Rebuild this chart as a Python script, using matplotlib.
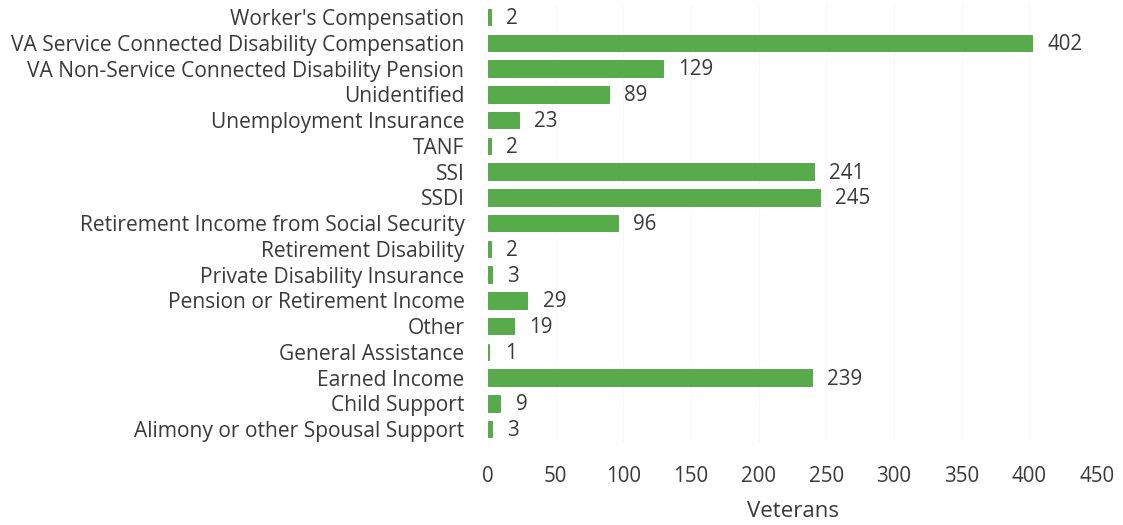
import matplotlib
matplotlib.use("Agg")
import matplotlib.pyplot as plt

categories = [
    "Worker's Compensation",
    "VA Service Connected Disability Compensation",
    "VA Non-Service Connected Disability Pension",
    "Unidentified",
    "Unemployment Insurance",
    "TANF",
    "SSI",
    "SSDI",
    "Retirement Income from Social Security",
    "Retirement Disability",
    "Private Disability Insurance",
    "Pension or Retirement Income",
    "Other",
    "General Assistance",
    "Earned Income",
    "Child Support",
    "Alimony or other Spousal Support",
]
veterans = [2, 402, 129, 89, 23, 2, 241, 245, 96, 2, 3, 29, 19, 1, 239, 9, 3]
x_ticks = [0, 50, 100, 150, 200, 250, 300, 350, 400, 450]

plt.rcParams["font.family"] = ["Open Sans", "DejaVu Sans"]
text_color = "#3a3a3a"
bar_color = "#58ab4b"

fig = plt.figure(figsize=(11.23, 5.25), dpi=100)
ax = fig.add_axes([0.4346, 0.158, 0.5423, 0.834])

n = len(categories)
ypos = list(range(n - 1, -1, -1))
ax.barh(ypos, veterans, height=0.64, color=bar_color, edgecolor="#4e9e44", linewidth=0.6)

for y, v in zip(ypos, veterans):
    ax.annotate(str(v), (v, y), xytext=(11, -1), textcoords="offset points",
                va="center", ha="left", fontsize=14.8, color=text_color)

ax.set_yticks(ypos)
ax.set_yticklabels(categories, fontsize=15.1, color=text_color)
ax.set_ylim(-0.5, n - 0.5)
ax.set_xlim(0, 450)
ax.set_xticks(x_ticks)
ax.set_xticklabels([str(t) for t in x_ticks], fontsize=14.8, color=text_color)
ax.tick_params(axis="both", length=0)
ax.tick_params(axis="x", pad=17)
ax.tick_params(axis="y", pad=17)
ax.set_xlabel("Veterans", fontsize=16, color=text_color, labelpad=10)

ax.grid(axis="x", color="#f8f8f8", linewidth=0.8)
ax.set_axisbelow(True)
for s in ax.spines.values():
    s.set_visible(False)

fig.savefig("out.png", dpi=100)
